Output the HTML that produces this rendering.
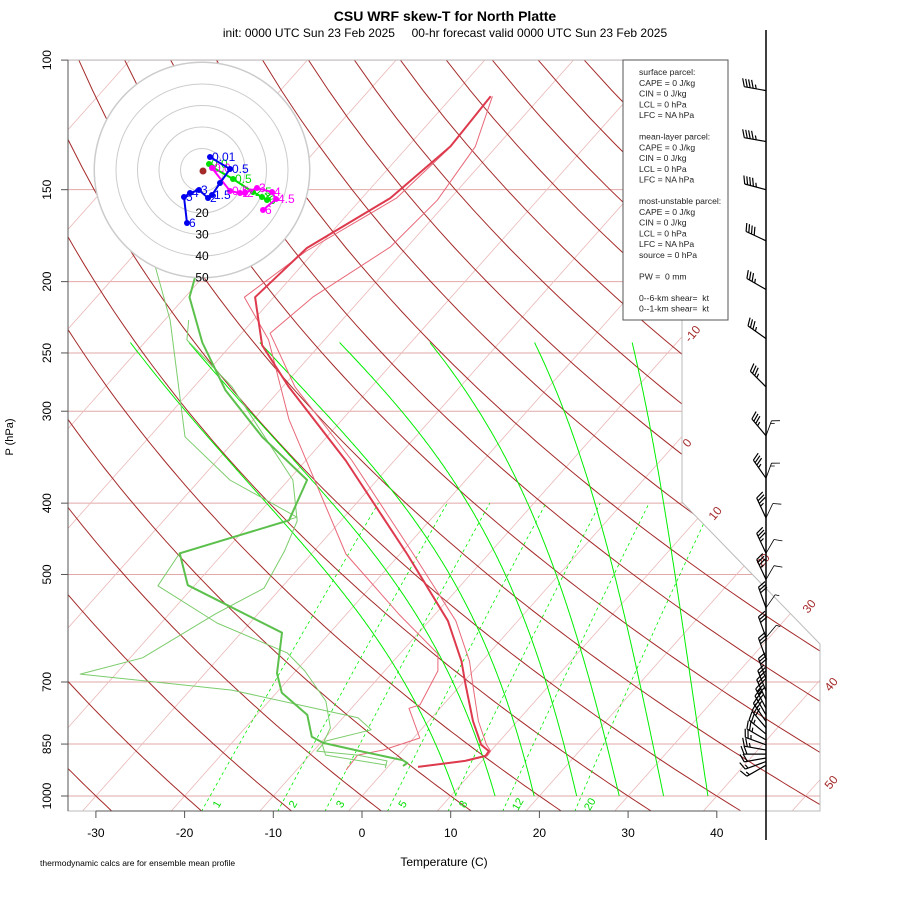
<!DOCTYPE html>
<html><head><meta charset="utf-8">
<style>
html,body{margin:0;padding:0;background:#fff;}
svg{display:block;font-family:"Liberation Sans",Arial,sans-serif;}
</style></head>
<body>
<svg id="chart" width="900" height="900" viewBox="0 0 900 900" xmlns="http://www.w3.org/2000/svg">
<defs><clipPath id="plotclip"><polygon points="68,60 682,60 682,502 820,644 820,811 68,811"/></clipPath></defs>
<text x="445" y="21" text-anchor="middle" font-size="14" font-weight="bold">CSU WRF skew-T for North Platte</text>
<text x="445" y="37" text-anchor="middle" font-size="12" xml:space="preserve">init: 0000 UTC Sun 23 Feb 2025     00-hr forecast valid 0000 UTC Sun 23 Feb 2025</text>
<g id="bg" clip-path="url(#plotclip)"></g>
<g id="snd" clip-path="url(#plotclip)"></g>
<g id="hodo"></g>
<g id="axes"></g>
<g id="winds"></g>
<g id="box"></g>
<text x="444" y="866" text-anchor="middle" font-size="12">Temperature (C)</text>
<text transform="translate(13,437) rotate(-90)" text-anchor="middle" font-size="11">P (hPa)</text>
<text x="40" y="866" font-size="8.5">thermodynamic calcs are for ensemble mean profile</text>
</svg>
<script>
// ---- data ----
const tempP = [112,131,154,180,210,244,278,350,469,578,656,704,791,852,869,882,896,913];
const tempT = [-55.7,-55.2,-56.8,-61.2,-62.1,-56.5,-49.3,-35.5,-19.2,-7.9,-2.3,0.4,5.0,8.3,9.8,9.9,8.1,3.4];
const dewP = [176,197,210,242,281,325,372,422,468,517,600,681,724,776,831,847,866,894,902,910];
const dewT = [-76.9,-70.9,-69.5,-63.5,-56.1,-47.3,-37.9,-35.9,-44.9,-40.8,-25.4,-21.9,-19.4,-14.3,-11.6,-9.7,-5.4,1.0,1.8,1.6];
const tempRP = [112,131,155,179.5,210,235,278,350,469,578,656,713,791,852,869,882,896,913];
const tempRT = [-55.5,-52.4,-51.3,-51.9,-55.6,-56.8,-48.6,-34.8,-18.5,-7.0,-1.4,1.7,5.6,8.9,10.0,10.1,8.3,3.6];
const tempLP = [112,132.5,154,182,210,240,308,469,566,641,676,752,760,834,866,880,922];
const tempLT = [-55.7,-55.2,-56.1,-61.0,-63.3,-56.3,-46.0,-26.1,-14.1,-5.7,-4.0,-2.6,-3.5,0.7,-2.2,-4.6,-4.4];
const dew1P = [190,225.5,325,372,418,469,518,582,639,676,743,808,852,880,908];
const dew1T = [-76.6,-69.4,-56.0,-46.6,-35.3,-44.9,-44.1,-33.7,-22.8,-19.0,-13.6,-10.4,-9.6,-8.2,-0.3];
const dew2P = [225.5,240,278,372,423,465,522,566,649,683,718,783,813,842,869,880,896,916];
const dew2T = [-67.3,-65.5,-55.7,-39.5,-34.9,-33.3,-31.9,-34.8,-38.6,-44.0,-25.3,-8.3,-5.6,-9.6,-9.6,-4.6,-0.7,-0.2];
const isobars = [100,150,200,250,300,400,500,700,850,1000];
const xTicks = [-30,-20,-10,0,10,20,30,40];
const mixRatios = [1,2,3,5,8,12,20];
const moistStarts = [10.6,15,19.4,24.2,29,34,39];
const moistTopT = [-71.6,-65,-57,-48,-37.8,-26,-15];
const windP = [110,129,150,176,205,239,278,324,370,419,468,508,555,609,651,694,720,740,760,776,792,808,824,839,852,866,877,888,898,908];
const windDir = [280,280,285,295,300,305,315,320,325,335,335,335,340,340,340,340,338,335,332,330,325,320,310,300,290,280,270,260,250,240];
const windSpd = [45,45,45,40,35,35,35,35,35,35,35,35,30,30,30,30,30,30,30,30,30,30,25,25,25,25,20,20,15,15];
const wind2P = [324,370,419,468,508,555,609];
const wind2Dir = [20,20,25,30,30,35,40];
const wind2Spd = [15,15,10,10,10,5,5];
const hodoRings = [10,20,30,40,50];
const hodoBlueU = [0.8,2.8,1.8,1.0,0.6,-0.3,-1.2,-1.8,-1.5];
const hodoBlueV = [-1.3,-0.1,1.3,2.5,2.8,2.0,2.3,2.7,5.3];
const hodoGreenU = [0.7,1.0,3.1,5.1,6.0,6.5];
const hodoGreenV = [-0.6,-0.3,0.9,2.2,2.7,3.0];
const hodoMagU = [1.0,2.8,3.8,4.3,5.5,7.0,7.4,6.1];
const hodoMagV = [-0.2,2.1,2.3,2.3,1.8,2.2,2.9,4.0];

// ---- scales ----
const NS='http://www.w3.org/2000/svg';
const PX=319.6, Y0=796, X0=362, SX=8.87, SK=0.89;
function yOf(p){return Y0-PX*Math.log(1000/p);}
function xOf(T,p){return X0+SX*T+SK*(Y0-yOf(p));}
function mk(tag,attrs,parent){const e=document.createElementNS(NS,tag);for(const k in attrs)e.setAttribute(k,attrs[k]);parent.appendChild(e);return e;}
function poly(pts){return pts.map(q=>q[0].toFixed(1)+','+q[1].toFixed(1)).join(' ');}
const bg=document.getElementById('bg'), snd=document.getElementById('snd');

isobars.forEach(p=>{
  const l=mk('line',{x1:68,x2:820,y1:yOf(p),y2:yOf(p),stroke:'#e2a8a8','stroke-width':1},bg);
  
  
});
for(let T=-140;T<=50;T+=10){
  const l=mk('line',{x1:xOf(T,1050),y1:yOf(1050),x2:xOf(T,100),y2:yOf(100),stroke:'#ebb8b8','stroke-width':0.8},bg);
  
  
}
for(let th=-40;th<=230;th+=10){
  const pts=[];
  for(let p=1050;p>=100;p-=10){const T=(th+273.15)*Math.pow(p/1000,0.2857)-273.15;pts.push([xOf(T,p),yOf(p)]);}
  const l=mk('polyline',{points:poly(pts),fill:'none',stroke:'#a52a2a','stroke-width':1},bg);
  
  
}
function es(Tc){return 6.112*Math.exp(17.67*Tc/(Tc+243.5));}
const PTOP=243, LT=Math.log(1000/PTOP);
moistStarts.forEach((t0,k)=>{
  let T=t0+273.15; const raw=[[1000,t0]];
  for(let p=1000;p>PTOP;p-=2){
    const e=es(T-273.15), rs=0.622*e/(p-e);
    const d=(287*T+2.5e6*rs)/(p*(1004+2.5e6*2.5e6*rs*0.622/(287*T*T)));
    T-=d*2; raw.push([p-2,T-273.15]);
  }
  const corr=moistTopT[k]-raw[raw.length-1][1];
  const pts=raw.map(r=>{const f=Math.log(1000/r[0])/LT;const Tc=r[1]+corr*f;return [xOf(Tc,r[0]),yOf(r[0])];});
  const l=mk('polyline',{points:poly(pts),fill:'none',stroke:'#00ee00','stroke-width':1},bg);
  
  
});
function tdOf(w,p){const e=w*p/(622+w);const a=Math.log(e/6.112);return 243.5*a/(17.67-a);}
mixRatios.forEach(w=>{
  const pts=[];
  for(let p=1050;p>=400;p-=10)pts.push([xOf(tdOf(w,p),p),yOf(p)]);
  const l=mk('polyline',{points:poly(pts),fill:'none',stroke:'#00ee00','stroke-width':0.8,'stroke-dasharray':'3,3'},bg);
  
  
  const x=xOf(tdOf(w,1040),1040)+17;
  const t=mk('text',{x:x,y:806,fill:'#00dd00','font-size':11,'text-anchor':'middle',transform:'rotate(-60 '+x+' 806)'},document.getElementById('axes'));
  t.textContent=w;
  
  
});
[['-10',690,343],['0',688,448],['10',714,521],['20',762,568],['30',808,614],['40',830,692],['50',830,790]].forEach(a=>{
  const t=mk('text',{x:a[1],y:a[2],fill:'#a52a2a','font-size':12,transform:'rotate(-50 '+a[1]+' '+a[2]+')'},document.getElementById('axes'));
  t.textContent=a[0];
  
  
});

function line(P,T,col,w,name){
  const pts=P.map((p,i)=>[xOf(T[i],p),yOf(p)]);
  const l=mk('polyline',{points:poly(pts),fill:'none',stroke:col,'stroke-width':w,'stroke-linejoin':'round'},snd);
  
  
}
line(tempRP,tempRT,'#e86878',1,'temperature-member-right');
line(tempLP,tempLT,'#e86878',1,'temperature-member-left');
line(dew1P,dew1T,'#7ccc6c',1,'dewpoint-member-1');
line(dew2P,dew2T,'#7ccc6c',1,'dewpoint-member-2');
line(tempP,tempT,'#dd3a4e',2,'temperature-mean');
line(dewP,dewT,'#5cc04c',2,'dewpoint-mean');

const hodo=document.getElementById('hodo'); const HC=[202,170], HR=2.15;
const hc=mk('circle',{cx:HC[0],cy:HC[1],r:108,fill:'#fff',stroke:'#cccccc','stroke-width':1},hodo);


hodoRings.forEach(r=>{
  const c=mk('circle',{cx:HC[0],cy:HC[1],r:r*HR,fill:'none',stroke:'#cccccc','stroke-width':1},hodo);
  
  
  if(r>10){const t=mk('text',{x:HC[0],y:HC[1]+r*HR+4,'text-anchor':'middle','font-size':12,fill:'#000'},hodo);t.textContent=r;
  
  }
});
function trace(U,V,col,labels,name){
  const pts=U.map((u,i)=>[HC[0]+u*10,HC[1]+V[i]*10]);
  const l=mk('polyline',{points:poly(pts),fill:'none',stroke:col,'stroke-width':2},hodo);
  
  
  pts.forEach((q,i)=>{
    const c=mk('circle',{cx:q[0],cy:q[1],r:3,fill:col},hodo);
    
    
    if(labels[i]){const t=mk('text',{x:q[0]+2,y:q[1]+4,fill:col,'font-size':12},hodo);t.textContent=labels[i];
    
    }
  });
}
trace(hodoGreenU,hodoGreenV,'#00dd00',['0.0','','0.5','2.5','3','6'],'hodograph-green');
trace(hodoMagU,hodoMagV,'#ff00ff',['0.0','0.5','1','2','3','4','4.5','6'],'hodograph-magenta');
trace(hodoBlueU,hodoBlueV,'#0000ee',['0.01','0.5','','1.5','2','3','4','5','6'],'hodograph-blue');
const bd=mk('circle',{cx:203,cy:171,r:3.5,fill:'#a52a2a'},hodo);



const ax=document.getElementById('axes');
const bp=mk('polygon',{points:'68,60 682,60 682,502 820,644 820,811 68,811',fill:'none',stroke:'#bbbbbb','stroke-width':1},ax);


const la=mk('line',{x1:68,x2:68,y1:60,y2:811,stroke:'#555','stroke-width':1},ax);


isobars.forEach(p=>{
  const y=yOf(p);
  const tk=mk('line',{x1:61,x2:68,y1:y,y2:y,stroke:'#555'},ax);
  
  
  const t=mk('text',{x:51,y:y,'font-size':12,'text-anchor':'middle',transform:'rotate(-90 51 '+y+')'},ax);
  t.textContent=p;
  
  
});
const xa=mk('line',{x1:xOf(-30,1000),x2:xOf(40,1000),y1:811,y2:811,stroke:'#555'},ax);


xTicks.forEach(T=>{
  const x=xOf(T,1000);
  const tk=mk('line',{x1:x,x2:x,y1:811,y2:818,stroke:'#555'},ax);
  
  
  const t=mk('text',{x:x,y:837,'font-size':12,'text-anchor':'middle'},ax);
  t.textContent=T;
  
  
});

const wg=document.getElementById('winds');
const ws=mk('line',{x1:766,x2:766,y1:30,y2:840,stroke:'#000','stroke-width':1.5},wg);


function barb(p,dir,spd,L,w,name){
  const x0=766,y0=yOf(p),a=dir*Math.PI/180;
  const sx=Math.sin(a),sy=-Math.cos(a);
  const x1=x0+sx*L,y1=y0+sy*L;
  let d='M'+x0+','+y0.toFixed(1)+'L'+x1.toFixed(1)+','+y1.toFixed(1);
  const px=-sy,py=sx; let pos=0, s=spd;
  while(s>=10){const bx=x1-sx*pos,by=y1-sy*pos;d+='M'+bx.toFixed(1)+','+by.toFixed(1)+'l'+(px*8+sx*3).toFixed(1)+','+(py*8+sy*3).toFixed(1);pos+=3;s-=10;}
  if(s>=5){const bx=x1-sx*pos,by=y1-sy*pos;d+='M'+bx.toFixed(1)+','+by.toFixed(1)+'l'+(px*4+sx*1.5).toFixed(1)+','+(py*4+sy*1.5).toFixed(1);}
  const e=mk('path',{d:d,fill:'none',stroke:'#000','stroke-width':w},wg);
  
  
}
windP.forEach((p,i)=>barb(p,windDir[i],windSpd[i],22,1.2,'wind-barb'));
wind2P.forEach((p,i)=>barb(p,wind2Dir[i],wind2Spd[i],16,0.8,'wind-barb-secondary'));

const bx=document.getElementById('box');
const br=mk('rect',{x:623,y:60,width:105,height:260,fill:'#fff',stroke:'#555','stroke-width':1},bx);


const lines=['surface parcel:','CAPE = 0 J/kg','CIN = 0 J/kg','LCL = 0 hPa','LFC = NA hPa','','mean-layer parcel:','CAPE = 0 J/kg','CIN = 0 J/kg','LCL = 0 hPa','LFC = NA hPa','','most-unstable parcel:','CAPE = 0 J/kg','CIN = 0 J/kg','LCL = 0 hPa','LFC = NA hPa','source = 0 hPa','','PW =  0 mm','','0--6-km shear=  kt','0--1-km shear=  kt'];
lines.forEach((s,i)=>{ if(!s)return;
  const t=mk('text',{x:639,y:75+i*10.75,'font-size':8.6,fill:'#222'},bx);
  t.setAttributeNS('http://www.w3.org/XML/1998/namespace','xml:space','preserve');
  t.textContent=s;
  
  
});
</script>
</body></html>
